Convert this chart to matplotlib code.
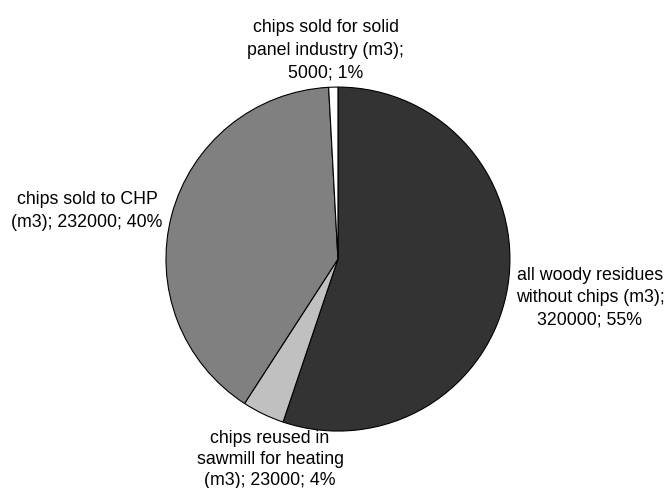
import matplotlib
matplotlib.use("Agg")
import matplotlib.pyplot as plt

categories = ["all woody residues\nwithout chips (m3);",
              "chips reused in\nsawmill for heating\n(m3);",
              "chips sold to CHP\n(m3);",
              "chips sold for solid\npanel industry (m3);"]
values = [320000, 23000, 232000, 5000]
percents = [55, 4, 40, 1]
colors = ["#333333", "#C0C0C0", "#808080", "#FFFFFF"]
# whether value line starts on a new line
newline_value = [True, False, False, True]

label_texts = []
for c, v, p, nl in zip(categories, values, percents, newline_value):
    sep = "\n" if nl else " "
    label_texts.append(f"{c}{sep}{v}; {p}%")

# label anchor positions (in pie-radius units)
label_pos = [(1.465, -0.22), (-0.395, -1.16), (-1.459, 0.285), (-0.07, 1.22)]
label_spacing = [1.42, 1.28, 1.42, 1.42]

fig = plt.figure(figsize=(6.68, 4.89), dpi=100)
ax = fig.add_axes([0, 0, 1, 1])
ax.pie(values, colors=colors, startangle=90, counterclock=False, radius=1.0,
       wedgeprops=dict(edgecolor="black", linewidth=0.8))
for t, (x, y), ls in zip(label_texts, label_pos, label_spacing):
    ax.text(x, y, t, ha="center", va="center", fontsize=12.8,
            family="Liberation Sans", linespacing=ls, color="black")
ax.set_xlim(-1.965, 1.919)
ax.set_ylim(-1.331, 1.512)
ax.set_aspect("equal")
ax.axis("off")
fig.savefig("out.png", dpi=100)
